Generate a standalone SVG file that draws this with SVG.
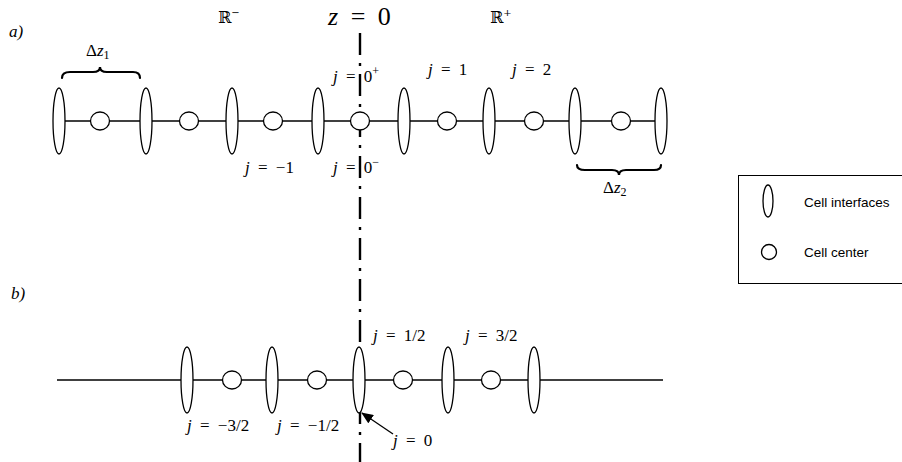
<svg xmlns="http://www.w3.org/2000/svg" width="902" height="462" viewBox="0 0 902 462">
<style>
.ln{stroke:#000;stroke-width:1.3;fill:none}
.el{stroke:#000;stroke-width:1.3;fill:#fff}
.m{font-family:"Liberation Serif","DejaVu Serif",serif;font-size:17px;word-spacing:4px;fill:#000}
.i{font-style:italic}
.bb{font-family:"DejaVu Serif","DejaVu Sans",serif;font-size:16px}
.lg{font-family:"Liberation Sans",Arial,sans-serif;font-size:13.5px;fill:#000}
.br{stroke:#000;stroke-width:2.2;fill:none;stroke-linecap:round}
</style>
<defs>
<marker id="ah" markerWidth="12" markerHeight="10" refX="11" refY="5" orient="auto" markerUnits="userSpaceOnUse">
<path d="M0,0 L12,5 L0,10 Z" fill="#000"/>
</marker>
</defs>
<g id="connectors">
<line class="ln" x1="59" y1="121" x2="661" y2="121"/>
<line class="ln" x1="57" y1="380" x2="663" y2="380"/>
<line x1="360" y1="33" x2="360" y2="462" stroke="#000" stroke-width="2.4" stroke-dasharray="22 8 3 8"/>
<line class="ln" x1="393" y1="434" x2="362" y2="413" stroke-width="1.5" marker-end="url(#ah)"/>
</g>
<g id="row-a">
<ellipse class="el" cx="59" cy="121" rx="6" ry="33"/>
<ellipse class="el" cx="146" cy="121" rx="6" ry="33"/>
<ellipse class="el" cx="232" cy="121" rx="6" ry="33"/>
<ellipse class="el" cx="318" cy="121" rx="6" ry="33"/>
<ellipse class="el" cx="404" cy="121" rx="6" ry="33"/>
<ellipse class="el" cx="489" cy="121" rx="6" ry="33"/>
<ellipse class="el" cx="575" cy="121" rx="6" ry="33"/>
<ellipse class="el" cx="661" cy="121" rx="6" ry="33"/>
<ellipse class="el" cx="100" cy="121" rx="9.5" ry="9"/>
<ellipse class="el" cx="189" cy="121" rx="9.5" ry="9"/>
<ellipse class="el" cx="273" cy="121" rx="9.5" ry="9"/>
<ellipse class="el" cx="360" cy="121" rx="9.5" ry="9"/>
<ellipse class="el" cx="447" cy="121" rx="9.5" ry="9"/>
<ellipse class="el" cx="534" cy="121" rx="9.5" ry="9"/>
<ellipse class="el" cx="621" cy="121" rx="9.5" ry="9"/>
</g>
<g id="row-b">
<ellipse class="el" cx="187" cy="380" rx="6" ry="33"/>
<ellipse class="el" cx="272" cy="380" rx="6" ry="33"/>
<ellipse class="el" cx="359" cy="380" rx="6" ry="33"/>
<ellipse class="el" cx="448" cy="380" rx="6" ry="33"/>
<ellipse class="el" cx="534" cy="380" rx="6" ry="33"/>
<ellipse class="el" cx="232" cy="380" rx="9.5" ry="9"/>
<ellipse class="el" cx="317" cy="380" rx="9.5" ry="9"/>
<ellipse class="el" cx="403" cy="380" rx="9.5" ry="9"/>
<ellipse class="el" cx="491" cy="380" rx="9.5" ry="9"/>
</g>
<g id="braces">
<path class="br" d="M62,78 Q62,72 70,72 L93,72 Q100,72 100,67 Q100,72 107,72 L133,72 Q140,72 140,78"/>
<path class="br" d="M577,165 Q577,170 585,170 L612,170 Q619,170 619,175 Q619,170 626,170 L654,170 Q661,170 661,165"/>
</g>
<g id="labels">
<text class="m i" x="9" y="37">a)</text>
<text class="m i" x="11" y="299">b)</text>
<text class="m bb" x="218" y="23">ℝ<tspan font-size="10" dy="-7">−</tspan></text>
<text class="m bb" x="490" y="23">ℝ<tspan font-size="10" dy="-7">+</tspan></text>
<text class="m" x="328" y="25" style="font-size:26px;word-spacing:6px"><tspan class="i">z</tspan> = 0</text>
<text class="m" x="86" y="56">Δ<tspan class="i">z</tspan><tspan font-size="12" dy="3">1</tspan></text>
<text class="m" x="603" y="193">Δ<tspan class="i">z</tspan><tspan font-size="12" dy="3">2</tspan></text>
<text class="m" x="333" y="82"><tspan class="i">j</tspan> = 0<tspan font-size="12" dy="-7">+</tspan></text>
<text class="m" x="428" y="75"><tspan class="i">j</tspan> = 1</text>
<text class="m" x="512" y="75"><tspan class="i">j</tspan> = 2</text>
<text class="m" x="245" y="173"><tspan class="i">j</tspan> = −1</text>
<text class="m" x="333" y="173"><tspan class="i">j</tspan> = 0<tspan font-size="12" dy="-7">−</tspan></text>
<text class="m" x="373" y="341"><tspan class="i">j</tspan> = 1/2</text>
<text class="m" x="465" y="341"><tspan class="i">j</tspan> = 3/2</text>
<text class="m" x="187" y="431"><tspan class="i">j</tspan> = −3/2</text>
<text class="m" x="277" y="431"><tspan class="i">j</tspan> = −1/2</text>
<text class="m" x="393" y="446"><tspan class="i">j</tspan> = 0</text>
</g>
<g id="legend">
<rect x="738.5" y="175.5" width="175" height="108" fill="none" stroke="#000" stroke-width="1"/>
<ellipse class="el" cx="768" cy="201" rx="5" ry="16" stroke-width="1"/>
<ellipse class="el" cx="769" cy="252" rx="7.5" ry="7.5" stroke-width="1"/>
<text class="lg" x="804" y="207">Cell interfaces</text>
<text class="lg" x="804" y="257">Cell center</text>
</g>
</svg>
